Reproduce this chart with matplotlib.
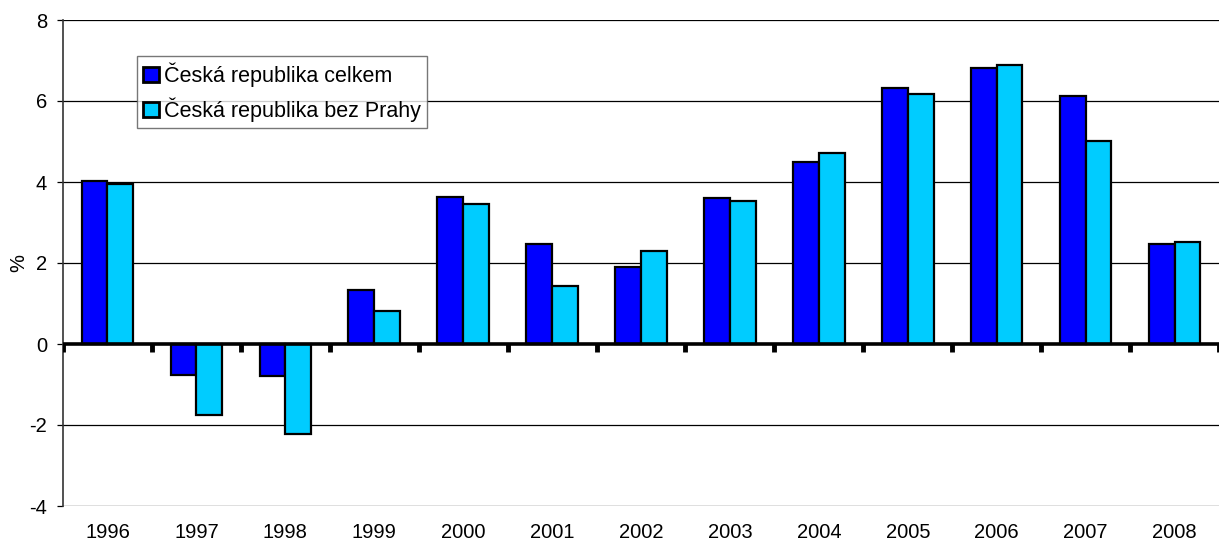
import matplotlib
matplotlib.use("Agg")
import matplotlib.pyplot as plt
import numpy as np

plt.rcParams['font.family'] = ['Liberation Sans', 'DejaVu Sans']

years = ['1996', '1997', '1998', '1999', '2000', '2001', '2002',
         '2003', '2004', '2005', '2006', '2007', '2008']
celkem = [4.02, -0.76, -0.79, 1.33, 3.64, 2.46, 1.9, 3.6, 4.49, 6.32, 6.81, 6.13, 2.46]
bez_prahy = [3.96, -1.76, -2.22, 0.81, 3.45, 1.43, 2.3, 3.53, 4.72, 6.18, 6.89, 5.01, 2.51]
names = ['Česká republika celkem', 'Česká republika bez Prahy']
colors = ['#0000FF', '#00CCFF']
fs = 14.5

fig = plt.figure(figsize=(12.2, 5.45), dpi=100)
ax = fig.add_axes([63/1220, 39/545, 1156/1220, 486/545])

x = np.arange(len(years))
w = 0.29
ax.bar(x - w/2, celkem, w, color=colors[0], edgecolor='black', linewidth=1.6,
       label=names[0], zorder=3)
ax.bar(x + w/2, bez_prahy, w, color=colors[1], edgecolor='black', linewidth=1.6,
       label=names[1], zorder=3)

ax.set_xlim(-0.5, len(years) - 0.5)
ax.set_ylim(-4, 8)
ax.set_yticks([-4, -2, 0, 2, 4, 6, 8])
ax.set_yticklabels(['-4', '-2', '0', '2', '4', '6', '8'], fontsize=fs)
for yv in [-4, -2, 2, 4, 6, 8]:
    ax.axhline(yv, color='black', linewidth=0.9, zorder=1)
ax.axhline(0, color='black', linewidth=2.6, zorder=4)

# category separators on the zero line
for b in np.arange(-0.5, len(years), 1.0):
    ax.plot([b, b], [0, -0.2], color='black', linewidth=3.5, zorder=4,
            solid_capstyle='butt')

ax.set_xticks(x)
ax.set_xticklabels(years, fontsize=fs)
ax.tick_params(axis='x', length=0, pad=12)
ax.tick_params(axis='y', length=4.5, width=0.9, color='black', pad=7)

for s in ['top', 'right', 'bottom']:
    ax.spines[s].set_visible(False)
ax.spines['left'].set_color('#333333')
ax.spines['left'].set_linewidth(1.2)

ax.set_ylabel('%', fontsize=fs, labelpad=1)

leg = ax.legend(loc='upper left', bbox_to_anchor=(0.064, 0.925), fontsize=15.5,
                frameon=True, fancybox=False, edgecolor='#555555',
                handlelength=0.7, handleheight=0.7, handletextpad=0.25,
                borderpad=0.3, labelspacing=0.45, borderaxespad=0)
leg.get_frame().set_linewidth(1.0)
for h in leg.legend_handles:
    h.set_linewidth(2.0)
leg.set_zorder(5)

fig.savefig('out.png', dpi=100)
